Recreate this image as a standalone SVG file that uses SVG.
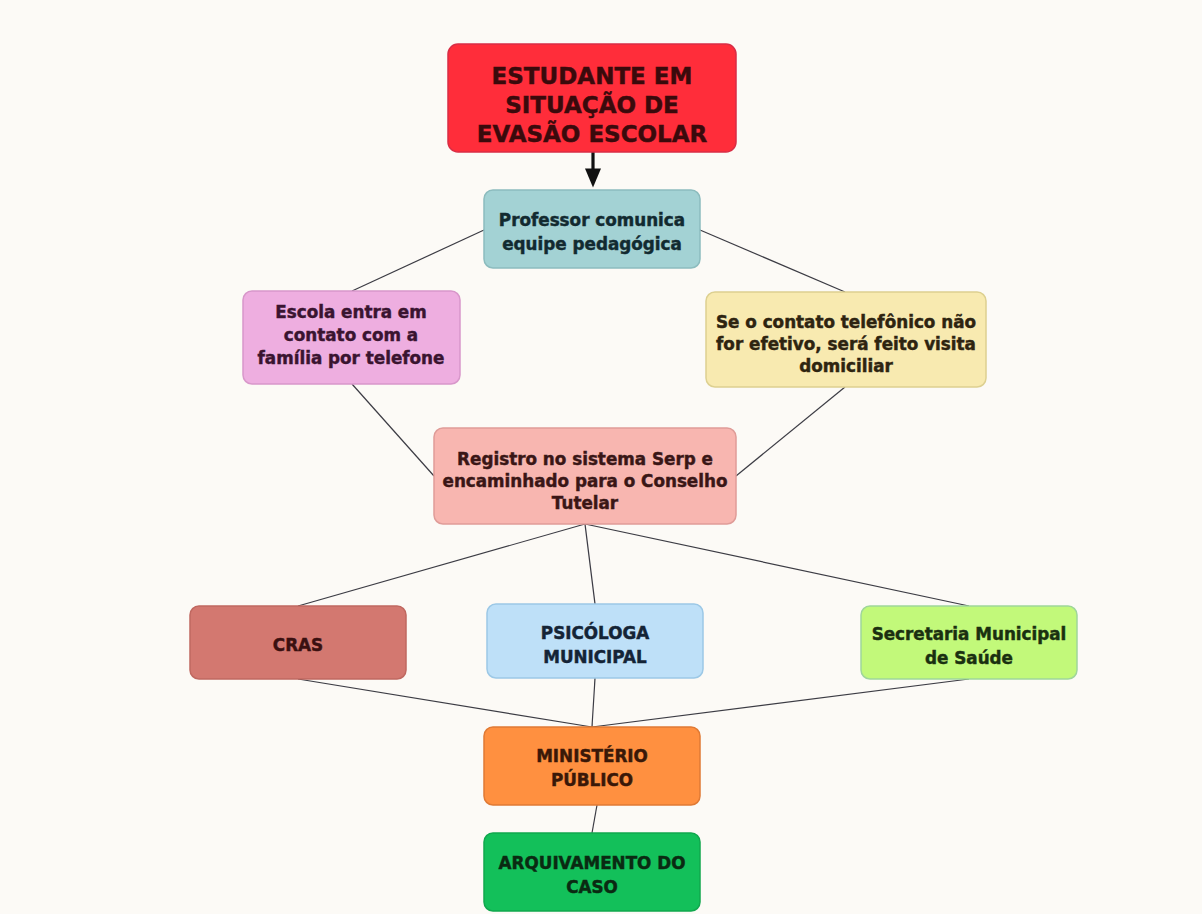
<svg xmlns="http://www.w3.org/2000/svg" width="1202" height="914" viewBox="0 0 1202 914">
<defs>
<style>
.n{stroke-width:1.5}
.t{font-family:"DejaVu Sans","Liberation Sans",sans-serif;font-weight:700;text-anchor:middle;font-size:16.8px;stroke-width:0.45}
.c{stroke:#3c3c44;stroke-width:1.2;fill:none}
</style>
<marker id="ah" markerWidth="6" markerHeight="6" refX="3" refY="3" orient="auto" markerUnits="strokeWidth">
<path d="M0,0.5 L6,3 L0,5.5 Z" fill="#111"/>
</marker>
</defs>
<rect width="1202" height="914" fill="#fcfaf6"/>
<g id="connectors">
<line x1="593" y1="152" x2="593" y2="178" stroke="#111" stroke-width="3.2" marker-end="url(#ah)"/>
<line class="c" x1="484" y1="230" x2="352" y2="291"/>
<line class="c" x1="700" y1="230" x2="845" y2="292"/>
<line class="c" x1="352" y1="384" x2="434" y2="476"/>
<line class="c" x1="845" y1="387" x2="736" y2="476"/>
<line class="c" x1="585" y1="524" x2="298" y2="606"/>
<line class="c" x1="585" y1="524" x2="595" y2="604"/>
<line class="c" x1="585" y1="524" x2="969" y2="606"/>
<line class="c" x1="298" y1="679" x2="592" y2="727"/>
<line class="c" x1="595" y1="678" x2="592" y2="727"/>
<line class="c" x1="969" y1="679" x2="592" y2="727"/>
<line class="c" x1="597" y1="805" x2="592" y2="833"/>
</g>
<g id="n-estudante">
<rect class="n" x="448" y="44" width="288" height="108" rx="10" fill="#ff2d3a" stroke="#d92d45"/>
<text class="t" style="font-size:23px;fill:#3a0a0c;stroke:#3a0a0c"><tspan x="592" y="84">ESTUDANTE EM</tspan><tspan x="592" y="113">SITUAÇÃO DE</tspan><tspan x="592" y="142">EVASÃO ESCOLAR</tspan></text>
</g>
<g id="n-professor">
<rect class="n" x="484" y="190" width="216" height="78" rx="9" fill="#a3d2d4" stroke="#8cbcbe"/>
<text class="t" style="fill:#122a30;stroke:#122a30"><tspan x="592" y="226">Professor comunica</tspan><tspan x="592" y="250">equipe pedagógica</tspan></text>
</g>
<g id="n-escola">
<rect class="n" x="243" y="291" width="217" height="93" rx="9" fill="#eeaee0" stroke="#d897ca"/>
<text class="t" style="fill:#3a1430;stroke:#3a1430"><tspan x="351" y="318">Escola entra em</tspan><tspan x="351" y="341">contato com a</tspan><tspan x="351" y="364">família por telefone</tspan></text>
</g>
<g id="n-contato">
<rect class="n" x="706" y="292" width="280" height="95" rx="9" fill="#f8eab0" stroke="#ddd090"/>
<text class="t" style="fill:#2e2410;stroke:#2e2410"><tspan x="846" y="328">Se o contato telefônico não</tspan><tspan x="846" y="350">for efetivo, será feito visita</tspan><tspan x="846" y="372">domiciliar</tspan></text>
</g>
<g id="n-registro">
<rect class="n" x="434" y="428" width="302" height="96" rx="9" fill="#f8b6b0" stroke="#df9c98"/>
<text class="t" style="fill:#3a1616;stroke:#3a1616"><tspan x="585" y="465">Registro no sistema Serp e</tspan><tspan x="585" y="487">encaminhado para o Conselho</tspan><tspan x="585" y="509">Tutelar</tspan></text>
</g>
<g id="n-cras">
<rect class="n" x="190" y="606" width="216" height="73" rx="9" fill="#d37870" stroke="#c06860"/>
<text class="t" style="fill:#3a1010;stroke:#3a1010"><tspan x="298" y="651">CRAS</tspan></text>
</g>
<g id="n-psicologa">
<rect class="n" x="487" y="604" width="216" height="74" rx="9" fill="#bee0f8" stroke="#9cc8e6"/>
<text class="t" style="fill:#142436;stroke:#142436"><tspan x="595" y="639">PSICÓLOGA</tspan><tspan x="595" y="663">MUNICIPAL</tspan></text>
</g>
<g id="n-secretaria">
<rect class="n" x="861" y="606" width="216" height="73" rx="9" fill="#c2f97a" stroke="#9fd69a"/>
<text class="t" style="fill:#1a3010;stroke:#1a3010"><tspan x="969" y="640">Secretaria Municipal</tspan><tspan x="969" y="664">de Saúde</tspan></text>
</g>
<g id="n-ministerio">
<rect class="n" x="484" y="727" width="216" height="78" rx="9" fill="#ff9040" stroke="#e07a34"/>
<text class="t" style="fill:#3a1808;stroke:#3a1808"><tspan x="592" y="762">MINISTÉRIO</tspan><tspan x="592" y="786">PÚBLICO</tspan></text>
</g>
<g id="n-arquivamento">
<rect class="n" x="484" y="833" width="216" height="78" rx="9" fill="#13c05a" stroke="#10a84e"/>
<text class="t" style="fill:#0a2a12;stroke:#0a2a12"><tspan x="592" y="869">ARQUIVAMENTO DO</tspan><tspan x="592" y="893">CASO</tspan></text>
</g>
</svg>
